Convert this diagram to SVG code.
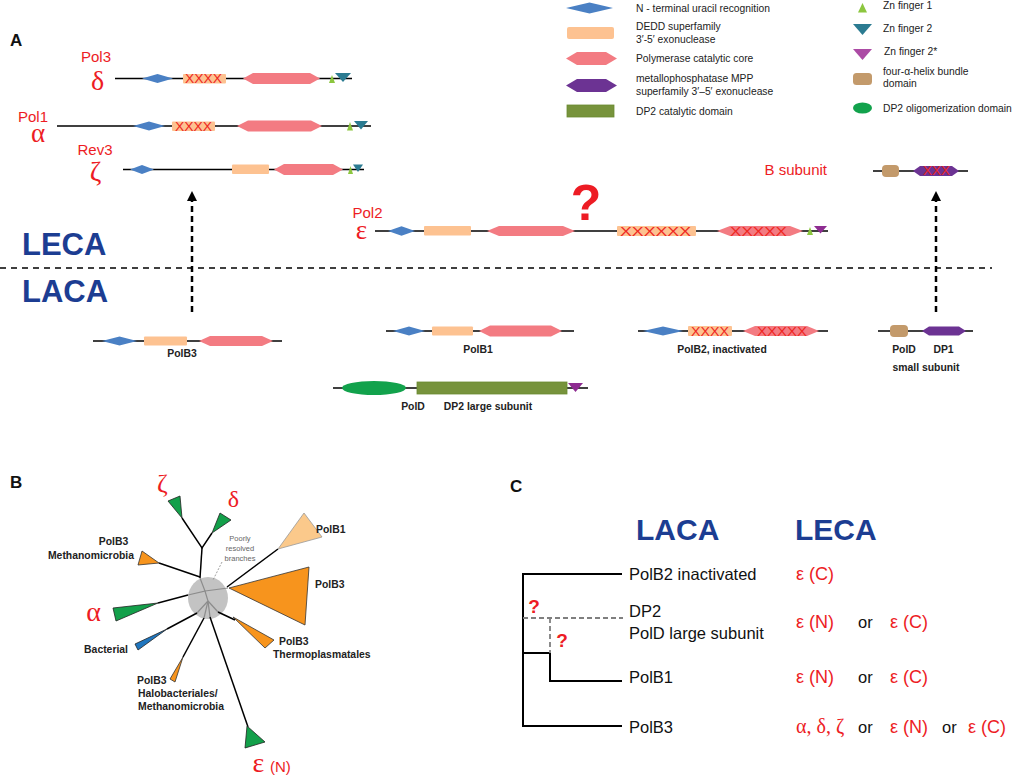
<svg xmlns="http://www.w3.org/2000/svg" width="1020" height="778" viewBox="0 0 1020 778">
<defs>
<style>
.ln{stroke:#000;stroke-width:1.5;fill:none}
.dia{fill:#4a80c4}
.exo{fill:#fdc291}
.pol{fill:#f37b82}
.mpp{fill:#6c3393}
.dp2{fill:#77933c;stroke:#6a8a30;stroke-width:0.8}
.olig{fill:#12a24c}
.zn1{fill:#8cc63f}
.zn2{fill:#2b7b91}
.zn2s{fill:#8e2c91}
.zn2l{fill:#ac4ba5}
.hel{fill:#c39a6b}
.lg{font-family:"Liberation Sans",Arial,sans-serif;font-size:10.3px;fill:#222}
.red{fill:#ed1c24}
.pl{font-family:"Liberation Sans",Arial,sans-serif;font-size:15px;fill:#ed1c24}
.gk{font-family:"Liberation Serif","Times New Roman",serif;fill:#ed1c24}
.xx{font-family:"Liberation Sans",Arial,sans-serif;font-size:12px;fill:#ee2722}
.bl{font-family:"Liberation Sans",Arial,sans-serif;font-weight:bold;font-size:10.4px;fill:#222}
.big{font-family:"Liberation Sans",Arial,sans-serif;font-weight:bold;fill:#1c3d92}
.pan{font-family:"Liberation Sans",Arial,sans-serif;font-weight:bold;font-size:17px;fill:#111}
.ct{font-family:"Liberation Sans",Arial,sans-serif;font-size:16.5px;fill:#111}
.ce{font-family:"Liberation Sans",Arial,sans-serif;font-size:18px;fill:#ed1c24}
.gr{fill:#13a04a;stroke:#222;stroke-width:0.8}
.or{fill:#f7941d;stroke:#333;stroke-width:0.8}
</style>
<marker id="ah" viewBox="0 0 10 10" refX="5" refY="5" markerWidth="4" markerHeight="4" orient="auto"><path d="M0,0 L10,5 L0,10 z" fill="#000"/></marker>
</defs>
<rect width="1020" height="778" fill="#fff"/>

<!-- Legend -->
<g id="legend">
<polygon class="dia" points="566,8 589.5,2.5 613,8 589.5,13.5"/>
<text class="lg" x="636" y="12">N - terminal uracil recognition</text>
<rect class="exo" x="567" y="27" width="47" height="12" rx="2"/>
<text class="lg" x="636" y="30">DEDD superfamily</text>
<text class="lg" x="636" y="42.5">3′-5′ exonuclease</text>
<polygon class="pol" points="566,58.5 577,52 606,52 617,58.5 606,65 577,65"/>
<text class="lg" x="636" y="62">Polymerase catalytic core</text>
<polygon class="mpp" points="566,85.5 577,79 606,79 617,85.5 606,92 577,92"/>
<text class="lg" x="636" y="82">metallophosphatase MPP</text>
<text class="lg" x="636" y="95">superfamily 3′–5′ exonuclease</text>
<rect class="dp2" x="567" y="105" width="47" height="12"/>
<text class="lg" x="636" y="115">DP2 catalytic domain</text>
<polygon class="zn1" points="858,12.5 867,12.5 862.5,3"/>
<text class="lg" x="883" y="9">Zn finger 1</text>
<polygon class="zn2" points="853,24 872,24 862.5,35"/>
<text class="lg" x="883" y="32">Zn finger 2</text>
<polygon class="zn2l" points="853,49 872,49 862.5,60"/>
<text class="lg" x="884" y="55">Zn finger 2*</text>
<rect class="hel" x="853" y="73" width="19" height="12" rx="3.5"/>
<text class="lg" x="883" y="75">four-α-helix bundle</text>
<text class="lg" x="883" y="87">domain</text>
<ellipse class="olig" cx="862.5" cy="108" rx="9.5" ry="5.5"/>
<text class="lg" x="883" y="112">DP2 oligomerization domain</text>
</g>

<text class="pan" x="10" y="46">A</text>

<!-- Pol3 delta -->
<g id="pol3">
<text class="pl" x="96" y="62" text-anchor="middle">Pol3</text>
<text class="gk" x="97.5" y="90" font-size="28" text-anchor="middle">δ</text>
<line class="ln" x1="115" y1="78.5" x2="352" y2="78.5"/>
<polygon class="dia" points="142,78.5 157.5,74 173,78.5 157.5,83"/>
<rect class="exo" x="183" y="74" width="43" height="9.5" rx="1"/>
<text class="xx" x="185" y="83" textLength="37" lengthAdjust="spacingAndGlyphs">XXXX</text>
<polygon class="pol" points="243,78.5 253,73 310,73 320,78.5 310,84 253,84"/>
<polygon class="zn1" points="329,83 335,83 332,75"/>
<polygon class="zn2" points="335,73 351,73 343,82"/>
</g>

<!-- Pol1 alpha -->
<g id="pol1">
<text class="pl" x="33" y="122" text-anchor="middle">Pol1</text>
<text class="gk" x="38" y="142" font-size="27" text-anchor="middle">α</text>
<line class="ln" x1="57" y1="126" x2="371" y2="126"/>
<polygon class="dia" points="133,126 149,121.5 165,126 149,130.5"/>
<rect class="exo" x="172" y="121.5" width="43" height="9.5" rx="1"/>
<text class="xx" x="175" y="130.5" textLength="37" lengthAdjust="spacingAndGlyphs">XXXX</text>
<polygon class="pol" points="237,126 248,120.5 311,120.5 322,126 311,131.5 248,131.5"/>
<polygon class="zn1" points="347,130.5 353,130.5 350,122"/>
<polygon class="zn2" points="354,121 368,121 361,129.5"/>
</g>

<!-- Rev3 zeta -->
<g id="rev3">
<text class="pl" x="95" y="155" text-anchor="middle">Rev3</text>
<text class="gk" x="95.5" y="181" font-size="28" text-anchor="middle">ζ</text>
<line class="ln" x1="123" y1="169.5" x2="364" y2="169.5"/>
<polygon class="dia" points="130,169.5 142,165 154,169.5 142,174"/>
<rect class="exo" x="232" y="164.5" width="37" height="9.5" rx="1"/>
<polygon class="pol" points="274,169.5 284,164 333,164 343,169.5 333,175 284,175"/>
<polygon class="zn1" points="348,174 353,174 350.5,166"/>
<polygon class="zn2" points="353,164.5 363,164.5 358,172"/>
</g>

<!-- Pol2 epsilon -->
<g id="pol2">
<text class="pl" x="367.5" y="218" text-anchor="middle">Pol2</text>
<text class="gk" x="361.5" y="239" font-size="27" text-anchor="middle">ε</text>
<line class="ln" x1="375" y1="231" x2="828" y2="231"/>
<polygon class="dia" points="388,231 401.5,226.3 415,231 401.5,235.7"/>
<rect class="exo" x="424" y="226" width="47" height="9.5" rx="1"/>
<polygon class="pol" points="487,231 499,226 563,226 575,231 563,236 499,236"/>
<text x="586" y="220" text-anchor="middle" font-family="Liberation Sans, Arial, sans-serif" font-weight="bold" font-size="50" class="red">?</text>
<rect class="exo" x="617" y="226" width="79" height="10" rx="1"/>
<text class="xx" x="620" y="235.5" font-size="12.5" textLength="71" lengthAdjust="spacingAndGlyphs">XXXXXX</text>
<polygon class="pol" points="717,231 730,226 790,226 803,231 790,236 730,236"/>
<text class="xx" x="730" y="235.5" font-size="12.5" textLength="57" lengthAdjust="spacingAndGlyphs">XXXXX</text>
<polygon class="zn1" points="807,235 813,235 810,227"/>
<polygon class="zn2s" points="814,226 827,226 820.5,233.5"/>
</g>

<!-- B subunit -->
<g id="bsubunit">
<text class="pl" x="827" y="175" text-anchor="end" font-size="14.5">B subunit</text>
<line class="ln" x1="873" y1="171" x2="968" y2="171"/>
<rect class="hel" x="882" y="165" width="17" height="12" rx="4"/>
<polygon class="mpp" points="913,171 920,166 952,166 959,171 952,176 920,176"/>
<text class="xx" x="923" y="175" font-size="11.5" textLength="27" lengthAdjust="spacingAndGlyphs">XXX</text>
</g>

<!-- LECA / LACA divider -->
<g id="divider">
<line x1="0" y1="268" x2="992" y2="268" stroke="#000" stroke-width="1.5" stroke-dasharray="6,5"/>
<text class="big" x="22" y="255" font-size="31">LECA</text>
<text class="big" x="22" y="302" font-size="31">LACA</text>
</g>

<!-- PolB3 -->
<g id="polb3">
<line class="ln" x1="93" y1="341" x2="282" y2="341"/>
<polygon class="dia" points="102,341 119.5,336.5 137,341 119.5,345.5"/>
<rect class="exo" x="144" y="336.5" width="43" height="9" rx="1"/>
<polygon class="pol" points="199,341 210,336 262,336 273,341 262,346 210,346"/>
<text class="bl" x="182" y="357" text-anchor="middle">PolB3</text>
</g>

<!-- PolB1 -->
<g id="polb1">
<line class="ln" x1="386" y1="331" x2="574" y2="331"/>
<polygon class="dia" points="393,331 409,326.5 425,331 409,335.5"/>
<rect class="exo" x="432" y="326.5" width="41" height="9" rx="1"/>
<polygon class="pol" points="479,331 490,325.5 551,325.5 562,331 551,336.5 490,336.5"/>
<text class="bl" x="478" y="353" text-anchor="middle">PolB1</text>
</g>

<!-- PolB2 inactivated -->
<g id="polb2">
<line class="ln" x1="638" y1="331" x2="828" y2="331"/>
<polygon class="dia" points="643,331 663,326.5 683,331 663,335.5"/>
<rect class="exo" x="688" y="326" width="44" height="10" rx="1"/>
<text class="xx" x="691" y="335.5" textLength="38" lengthAdjust="spacingAndGlyphs">XXXX</text>
<polygon class="pol" points="743,331 755,326 807,326 819,331 807,336 755,336"/>
<text class="xx" x="757" y="335.5" textLength="50" lengthAdjust="spacingAndGlyphs">XXXXX</text>
<text class="bl" x="722" y="353" text-anchor="middle">PolB2, inactivated</text>
</g>

<!-- PolD small subunit -->
<g id="pold-small">
<line class="ln" x1="878" y1="331" x2="973" y2="331"/>
<rect class="hel" x="890" y="325" width="18" height="12" rx="4"/>
<polygon class="mpp" points="922,331 929,326.5 959,326.5 966,331 959,335.5 929,335.5"/>
<text class="bl" x="904" y="353" text-anchor="middle">PolD</text>
<text class="bl" x="943.5" y="353" text-anchor="middle">DP1</text>
<text class="bl" x="926" y="371" text-anchor="middle">small subunit</text>
</g>

<!-- PolD DP2 large subunit -->
<g id="pold-large">
<line class="ln" x1="333" y1="388" x2="588" y2="388"/>
<ellipse class="olig" cx="374" cy="388" rx="32" ry="7"/>
<rect class="dp2" x="417" y="382" width="150" height="12"/>
<polygon class="zn2s" points="568,383 583,383 575.5,392"/>
<text class="bl" x="413" y="410" text-anchor="middle">PolD</text>
<text class="bl" x="488" y="410" text-anchor="middle">DP2 large subunit</text>
</g>

<!-- connectors -->
<g id="connectors">
<line x1="192" y1="312" x2="192" y2="196" stroke="#000" stroke-width="2.5" stroke-dasharray="6,4" marker-end="url(#ah)"/>
<line x1="936" y1="312" x2="936" y2="196" stroke="#000" stroke-width="2.5" stroke-dasharray="6,4" marker-end="url(#ah)"/>
</g>

<!-- Panel B -->
<text class="pan" x="10" y="488">B</text>
<g id="tree-b">
<ellipse cx="208" cy="598" rx="20" ry="21" fill="#c3c3c3"/>
<g stroke="#8c8c8c" stroke-width="1.2" fill="none">
<polyline points="200,578 205,591 188,595"/>
<polyline points="205,591 228,588"/>
<polyline points="205,591 208,601 197,613"/>
<polyline points="208,601 218,612"/>
<polyline points="208,601 204,618"/>
<polyline points="208,601 210,617"/>
</g>
<g class="ln">
<polyline points="182,518 202,548 212,533"/>
<line x1="202" y1="548" x2="200" y2="578"/>
<line x1="159" y1="563" x2="200" y2="577"/>
<line x1="227" y1="587" x2="278" y2="549"/>
<line x1="158" y1="603" x2="188" y2="595"/>
<line x1="167" y1="629" x2="197" y2="613"/>
<line x1="183" y1="657" x2="204" y2="618"/>
<line x1="210" y1="617" x2="248" y2="727"/>
<line x1="218" y1="612" x2="235" y2="620"/>
</g>
<polygon class="gr" points="182,518 168,501 180,496"/>
<polygon class="gr" points="212,533 220,513 231,520"/>
<polygon class="or" points="159,563 142,551 138,565"/>
<polygon points="278,549 304,513 322,537" fill="#fbc98b" stroke="#999" stroke-width="0.8"/>
<polygon class="or" points="229,588 309,567 305,625"/>
<polygon class="gr" points="158,603 113,608 116,621"/>
<polygon points="167,629 135,644 138,650" fill="#1f76bf" stroke="#222" stroke-width="0.8"/>
<polygon class="or" points="183,657 170,679 175,682"/>
<polygon class="or" points="233,617 274,640 265,648"/>
<polygon class="gr" points="247,726 245,748 265,742"/>
<line x1="222" y1="562" x2="213" y2="580" stroke="#888" stroke-width="0.8" stroke-dasharray="2,1.5"/>
<g font-family="Liberation Sans, Arial, sans-serif" font-size="7.5" fill="#666" text-anchor="middle">
<text x="240" y="541">Poorly</text>
<text x="240" y="551">resolved</text>
<text x="240" y="561">branches</text>
</g>
<text class="gk" x="162.5" y="492" font-size="26" text-anchor="middle">ζ</text>
<text class="gk" x="233.5" y="507" font-size="24" text-anchor="middle">δ</text>
<text class="gk" x="93.5" y="621" font-size="28" text-anchor="middle">α</text>
<text class="gk" x="258.5" y="772" font-size="28" text-anchor="middle">ε</text>
<text class="pl" x="270" y="772" font-size="15">(N)</text>
<text class="bl" x="113.5" y="545" text-anchor="middle">PolB3</text>
<text class="bl" x="134" y="559" text-anchor="end">Methanomicrobia</text>
<text class="bl" x="316" y="533">PolB1</text>
<text class="bl" x="315" y="588">PolB3</text>
<text class="bl" x="279" y="645">PolB3</text>
<text class="bl" x="273" y="658">Thermoplasmatales</text>
<text class="bl" x="128" y="653" text-anchor="end">Bacterial</text>
<text class="bl" x="137" y="684">PolB3</text>
<text class="bl" x="138" y="697">Halobacteriales/</text>
<text class="bl" x="138" y="710">Methanomicrobia</text>
</g>

<!-- Panel C -->
<text class="pan" x="510" y="492">C</text>
<g id="tree-c">
<text class="big" x="636" y="540" font-size="30">LACA</text>
<text class="big" x="795" y="540" font-size="30">LECA</text>
<g stroke="#000" stroke-width="2" fill="none">
<polyline points="622,574 523,574 523,726 622,726"/>
<line x1="523" y1="653" x2="550" y2="653"/>
<polyline points="550,653 550,681 622,681"/>
</g>
<g stroke="#7f7f7f" stroke-width="1.8" fill="none" stroke-dasharray="5,3">
<line x1="523" y1="618" x2="623" y2="618"/>
<line x1="550" y1="618" x2="550" y2="653"/>
</g>
<text x="534" y="613" text-anchor="middle" font-family="Liberation Sans, Arial, sans-serif" font-weight="bold" font-size="19" class="red">?</text>
<text x="562" y="647" text-anchor="middle" font-family="Liberation Sans, Arial, sans-serif" font-weight="bold" font-size="19" class="red">?</text>
<text class="ct" x="629" y="580">PolB2 inactivated</text>
<text class="ct" x="629" y="617">DP2</text>
<text class="ct" x="629" y="639">PolD large subunit</text>
<text class="ct" x="629" y="683">PolB1</text>
<text class="ct" x="629" y="733">PolB3</text>
<text class="ce" x="796" y="580">ε (C)</text>
<text class="ce" x="796" y="628">ε (N)</text>
<text class="ct" x="858" y="628" font-size="15">or</text>
<text class="ce" x="890" y="628">ε (C)</text>
<text class="ce" x="796" y="683">ε (N)</text>
<text class="ct" x="858" y="683" font-size="15">or</text>
<text class="ce" x="890" y="683">ε (C)</text>
<text class="gk" x="796" y="733" font-size="20">α, δ, ζ</text>
<text class="ct" x="858" y="733" font-size="15">or</text>
<text class="ce" x="890" y="733">ε (N)</text>
<text class="ct" x="942" y="733" font-size="15">or</text>
<text class="ce" x="968" y="733">ε (C)</text>
</g>
</svg>
